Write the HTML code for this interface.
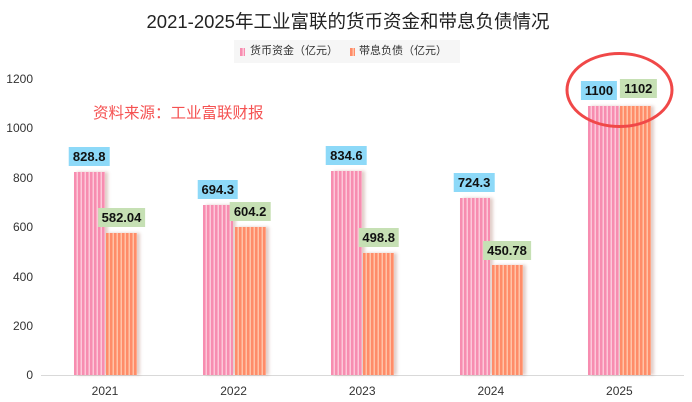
<!DOCTYPE html>
<html><head><meta charset="utf-8">
<style>
*{margin:0;padding:0;box-sizing:border-box}
body{width:692px;height:402px;background:#fff;position:relative;overflow:hidden;font-family:"Liberation Sans","Noto Sans CJK SC",sans-serif;color:#333}
.abs{position:absolute}
.title{left:0;width:692px;top:8px;text-align:center;font-size:18.5px;color:#222;white-space:nowrap;padding-left:4px}
.legend{left:234px;top:40px;width:226px;height:23px;background:#f6f6f6}
.lg{position:absolute;top:5px;font-size:11px;line-height:13px;color:#333;white-space:nowrap}
.mk{position:absolute;top:8px;width:5px;height:8px}
.yl{left:0;width:33px;text-align:right;font-size:12px;line-height:14px;color:#333}
.xl{width:60px;text-align:center;font-size:12px;line-height:14px;color:#333;top:384px}
.bar{position:absolute;box-shadow:3px 0 3px rgba(150,80,60,0.28)}
.pk{background:repeating-linear-gradient(90deg,#f78db0 0,#f78db0 2.5px,#fcc8d9 2.5px,#fcc8d9 4px)}
.or{background:repeating-linear-gradient(90deg,#ff8c69 0,#ff8c69 2.5px,#ffc3a8 2.5px,#ffc3a8 4px)}
.lb{position:absolute;height:19px;line-height:19px;font-size:13px;font-weight:bold;color:#111;padding:0 4px;white-space:nowrap;transform:translateX(-50%)}
.bl{background:#8dd9f8}
.gr{background:#c6e0b4}
</style></head><body>
<div class="abs title">2021-2025年工业富联的货币资金和带息负债情况</div>
<div class="abs legend">
  <div class="mk pk" style="left:6px"></div>
  <div class="lg" style="left:16px">货币资金（亿元）</div>
  <div class="mk or" style="left:116px"></div>
  <div class="lg" style="left:125px">带息负债（亿元）</div>
</div>
<div class="abs" style="left:93px;top:101px;font-size:15.5px;color:#f55252;white-space:nowrap">资料来源：工业富联财报</div>

<div class="abs yl" style="top:72px">1200</div>
<div class="abs yl" style="top:121px">1000</div>
<div class="abs yl" style="top:171px">800</div>
<div class="abs yl" style="top:220px">600</div>
<div class="abs yl" style="top:270px">400</div>
<div class="abs yl" style="top:319px">200</div>
<div class="abs yl" style="top:368px">0</div>

<div class="abs" style="left:41px;top:375px;width:643px;height:1px;background:#d9d9d9"></div>

<!-- bars -->
<div class="bar pk" style="left:74px;top:172.4px;width:30.5px;height:202.6px"></div>
<div class="bar or" style="left:106px;top:232.7px;width:31px;height:142.3px"></div>
<div class="bar pk" style="left:202.6px;top:205.2px;width:30.5px;height:169.8px"></div>
<div class="bar or" style="left:234.6px;top:227.3px;width:31px;height:147.7px"></div>
<div class="bar pk" style="left:331.2px;top:170.9px;width:30.5px;height:204.1px"></div>
<div class="bar or" style="left:363.2px;top:253px;width:31px;height:122px"></div>
<div class="bar pk" style="left:459.8px;top:197.9px;width:30.5px;height:177.1px"></div>
<div class="bar or" style="left:491.8px;top:264.8px;width:31px;height:110.2px"></div>
<div class="bar pk" style="left:588.4px;top:106px;width:30.5px;height:269px"></div>
<div class="bar or" style="left:620.4px;top:105.6px;width:31px;height:269.4px"></div>

<!-- labels -->
<div class="lb bl" style="left:89.2px;top:147.4px">828.8</div>
<div class="lb gr" style="left:121.5px;top:207.7px">582.04</div>
<div class="lb bl" style="left:217.8px;top:180.2px">694.3</div>
<div class="lb gr" style="left:250.1px;top:202.3px">604.2</div>
<div class="lb bl" style="left:346.4px;top:145.9px">834.6</div>
<div class="lb gr" style="left:378.7px;top:228px">498.8</div>
<div class="lb bl" style="left:474.1px;top:172.9px">724.3</div>
<div class="lb gr" style="left:507px;top:240.5px">450.78</div>
<div class="lb bl" style="left:599px;top:81px">1100</div>
<div class="lb gr" style="left:638.3px;top:79px">1102</div>

<div class="abs xl" style="left:75px">2021</div>
<div class="abs xl" style="left:203.6px">2022</div>
<div class="abs xl" style="left:332.2px">2023</div>
<div class="abs xl" style="left:460.8px">2024</div>
<div class="abs xl" style="left:589.4px">2025</div>

<svg class="abs" style="left:0;top:0" width="692" height="402">
  <ellipse cx="619.5" cy="90" rx="52.5" ry="36.5" fill="none" stroke="#f04848" stroke-width="3"/>
</svg>
</body></html>
